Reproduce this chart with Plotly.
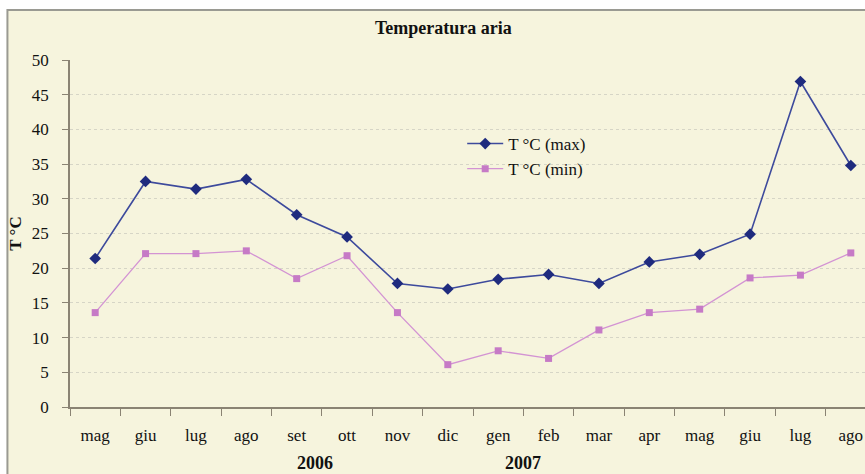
import plotly.graph_objects as go

# Monthly air temperature, May 2006 - August 2007
months = ["mag", "giu", "lug", "ago", "set", "ott", "nov", "dic",
          "gen", "feb", "mar", "apr", "mag ", "giu ", "lug ", "ago "]
month_labels = ["mag", "giu", "lug", "ago", "set", "ott", "nov", "dic",
                "gen", "feb", "mar", "apr", "mag", "giu", "lug", "ago"]
t_max = [21.4, 32.5, 31.4, 32.8, 27.7, 24.5, 17.8, 17.0,
         18.4, 19.1, 17.8, 20.9, 22.0, 24.9, 46.9, 34.8]
t_min = [13.6, 22.1, 22.1, 22.5, 18.5, 21.8, 13.6, 6.1,
         8.1, 7.0, 11.1, 13.6, 14.1, 18.6, 19.0, 22.2]
y_ticks = [0, 5, 10, 15, 20, 25, 30, 35, 40, 45, 50]
year_labels = [("2006", 4.37), ("2007", 8.5)]

SERIF = "Liberation Serif, Times New Roman, serif"
AXIS_COL = "#8a8373"
CREAM = "#f6f4dd"

W, H = 865, 474
L, R, T, B = 69.6, 0, 60, 67
plot_w = W - L - R
plot_h = H - T - B
cat_w = 50.4
x_hi = -0.5 + plot_w / cat_w

fig = go.Figure()
fig.add_trace(go.Scatter(
    x=months, y=t_max, name="T °C (max)", mode="lines+markers",
    line=dict(color="#3d4a9c", width=1.6),
    marker=dict(symbol="diamond", size=9, color="#1f2b7e"),
))
fig.add_trace(go.Scatter(
    x=months, y=t_min, name="T °C (min)", mode="lines+markers",
    line=dict(color="#d393d3", width=1.3),
    marker=dict(symbol="square", size=7, color="#c67ac6"),
))

def px_x(px):
    return (px - L) / plot_w

def px_y(py):
    return (H - B - py) / plot_h

# chart frame
fig.add_shape(type="rect", xref="paper", yref="paper",
              x0=px_x(7), x1=px_x(880), y0=px_y(490), y1=px_y(10),
              line=dict(color="#9a9a92", width=2), fillcolor=CREAM,
              layer="below")

fig.add_annotation(text="<b>Temperatura aria</b>", xref="paper", yref="paper",
                   x=px_x(443), y=px_y(28), showarrow=False,
                   xanchor="center", yanchor="middle",
                   font=dict(family=SERIF, size=18, color="#111"))

for label, pos in year_labels:
    fig.add_annotation(text=f"<b>{label}</b>", xref="x", yref="paper",
                       x=pos, y=px_y(463), showarrow=False,
                       xanchor="center", yanchor="middle",
                       font=dict(family=SERIF, size=18, color="#111"))

fig.update_layout(
    width=W, height=H,
    margin=dict(l=L, r=R, t=T, b=B),
    paper_bgcolor="white", plot_bgcolor="rgba(0,0,0,0)",
    font=dict(family=SERIF, color="#111"),
    showlegend=True,
    legend=dict(x=px_x(462), y=px_y(126), xanchor="left", yanchor="top",
                bgcolor="rgba(0,0,0,0)", font=dict(family=SERIF, size=17),
                tracegroupgap=2, itemwidth=36),
)
fig.update_xaxes(
    type="category", range=[-0.5, x_hi],
    tickmode="array", tickvals=months, ticktext=month_labels,
    tickson="boundaries", ticks="outside", ticklen=7, tickcolor=AXIS_COL,
    showline=True, linecolor=AXIS_COL, linewidth=1.5,
    showgrid=False, ticklabelstandoff=12,
    tickfont=dict(family=SERIF, size=17, color="#111"),
)
fig.update_yaxes(
    range=[0, 50], tickvals=y_ticks, ticks="outside", ticklen=6,
    tickcolor=AXIS_COL, showline=True, linecolor=AXIS_COL, linewidth=1.5,
    showgrid=True, gridcolor="#d6d5c6", griddash="dot", gridwidth=1,
    zeroline=False, ticklabelstandoff=10,
    tickfont=dict(family=SERIF, size=17, color="#111"),
    title=dict(text="<b>T °C</b>", standoff=6,
               font=dict(family=SERIF, size=17, color="#111")),
)

fig.write_html("out.html")
